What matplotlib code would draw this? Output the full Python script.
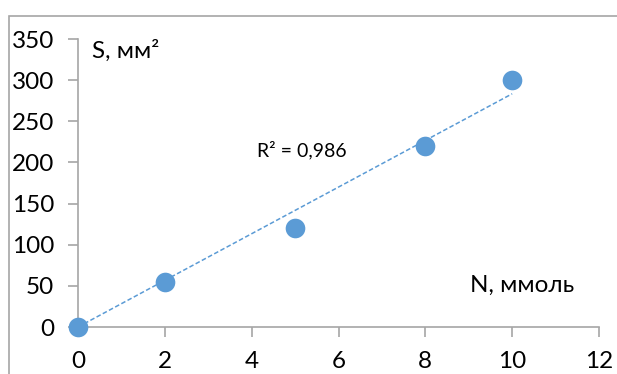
import numpy as np
import matplotlib
matplotlib.use("Agg")
import matplotlib.pyplot as plt
from matplotlib.patches import Rectangle

# data
n_mmol = [0, 2, 5, 8, 10]
s_mm2 = [0, 55, 120, 220, 300]
r2_label = "R² = 0,986"

plt.rcParams["font.family"] = ["Lato", "Open Sans", "DejaVu Sans"]

BLUE = "#5B9BD5"
GREY = "#A6A6A6"

fig = plt.figure(figsize=(6.17, 3.74), dpi=100)
# outer chart frame (only top and left edges are visible)
fig.patches.append(Rectangle((9 / 617, -0.1), 1.2, 1.1 - 16 / 374,
                             transform=fig.transFigure, fill=False,
                             edgecolor=GREY, linewidth=1.2))

ax = fig.add_axes([78 / 617, 1 - 327 / 374, 521 / 617, 288 / 374])

# linear trendline through the origin
x = np.array(n_mmol, dtype=float)
y = np.array(s_mm2, dtype=float)
slope = (x * y).sum() / (x * x).sum()
xs = np.array([x.min(), x.max()])
ax.plot(xs, slope * xs, color=BLUE, linewidth=1.1, linestyle=(0, (3, 1.6)),
        zorder=2, clip_on=False)

ax.scatter(n_mmol, s_mm2, s=200, color=BLUE, zorder=3, clip_on=False,
           linewidths=0)

ax.set_xlim(0, 12)
ax.set_ylim(0, 350)
ax.set_xticks(range(0, 13, 2))
ax.set_yticks(range(0, 351, 50))

for side in ["top", "right"]:
    ax.spines[side].set_visible(False)
for side in ["left", "bottom"]:
    ax.spines[side].set_color(GREY)
    ax.spines[side].set_linewidth(1.2)
ax.tick_params(axis="both", direction="out", length=7, width=1.2,
               color=GREY, labelsize=17.5, pad=10, labelcolor="black")

ax.text(0.32, 336, "S, мм²", fontsize=17.5, va="center", ha="left")
ax.text(9.03, 51, "N, ммоль", fontsize=17.5, va="center", ha="left")
ax.text(4.12, 215, r2_label, fontsize=14, va="center", ha="left")

fig.savefig("out.png", dpi=100)
